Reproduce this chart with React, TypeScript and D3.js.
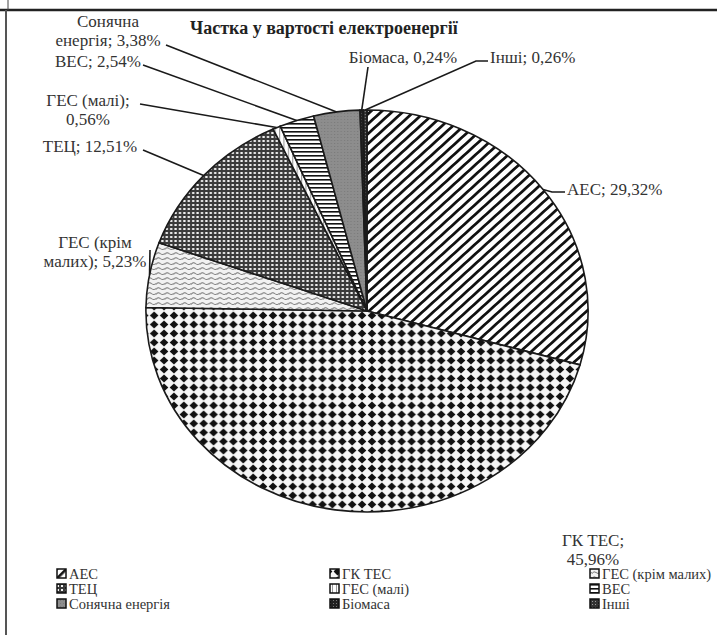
import * as d3 from "d3";

// values
const title = "Частка у вартості електроенергії";
const categories = ["АЕС", "ГК ТЕС", "ГЕС (крім малих)", "ТЕЦ", "ГЕС (малі)", "ВЕС", "Сонячна енергія", "Біомаса", "Інші"];
const shares = [29.32, 45.96, 5.23, 12.51, 0.56, 2.54, 3.38, 0.24, 0.26];
const dataLabels = [
  ["АЕС; 29,32%"],
  ["ГК ТЕС;", "45,96%"],
  ["ГЕС (крім", "малих); 5,23%"],
  ["ТЕЦ; 12,51%"],
  ["ГЕС (малі);", "0,56%"],
  ["ВЕС; 2,54%"],
  ["Сонячна", "енергія; 3,38%"],
  ["Біомаса, 0,24%"],
  ["Інші; 0,26%"],
];

// label placement (layout only)
type LabelPos = { x: number; y: number; anchor: string; lead: [number, number][] | null };
const labelPos: LabelPos[] = [
  { x: 567, y: 190, anchor: "start", lead: [[565, 192], [552, 192]] },
  { x: 593, y: 541, anchor: "middle", lead: null },
  { x: 95, y: 243, anchor: "middle", lead: [[150, 250]] },
  { x: 90, y: 147, anchor: "middle", lead: [[143, 150]] },
  { x: 88, y: 101, anchor: "middle", lead: [[140, 104]] },
  { x: 98, y: 62, anchor: "middle", lead: [[143, 65]] },
  { x: 108, y: 22, anchor: "middle", lead: [[166, 45]] },
  { x: 403, y: 58, anchor: "middle", lead: [[368, 67]] },
  { x: 490, y: 58, anchor: "start", lead: [[488, 61], [476, 61]] },
];

const W = 717;
const H = 635;
const cx = 367;
const cy = 311;
const R = 201;
const sx = 1.1; // scan is stretched sideways
const font = "Liberation Serif, serif";

const Patterns = () => (
  <defs>
    <pattern id="p0" width="7" height="7" patternUnits="userSpaceOnUse" patternTransform="rotate(45)">
      <rect width="7" height="7" fill="#fff" />
      <rect width="2.6" height="7" fill="#111" />
    </pattern>
    <pattern id="p1" width="9" height="9" patternUnits="userSpaceOnUse">
      <rect width="9" height="9" fill="#f6f6f6" />
      <path d="M4.5,0.6 L8.4,4.5 L4.5,8.4 L0.6,4.5 Z" fill="#111" />
    </pattern>
    <pattern id="p2" width="8" height="5" patternUnits="userSpaceOnUse">
      <rect width="8" height="5" fill="#f2f2f2" />
      <path d="M0,3.5 Q2,0.5 4,2.5 T8,2.5" fill="none" stroke="#777" strokeWidth="1" />
    </pattern>
    <pattern id="p3" width="4" height="4" patternUnits="userSpaceOnUse">
      <rect width="4" height="4" fill="#3a3a3a" />
      <rect x="1" y="1" width="2" height="2" fill="#f4f4f4" />
    </pattern>
    <pattern id="p4" width="4" height="4" patternUnits="userSpaceOnUse">
      <rect width="4" height="4" fill="#fff" />
      <rect x="0" y="0" width="1" height="4" fill="#999" />
    </pattern>
    <pattern id="p5" width="4" height="4" patternUnits="userSpaceOnUse">
      <rect width="4" height="4" fill="#fff" />
      <rect width="4" height="1.6" fill="#111" />
    </pattern>
    <pattern id="p6" width="3" height="3" patternUnits="userSpaceOnUse">
      <rect width="3" height="3" fill="#8d8d8d" />
      <rect width="1" height="1" fill="#7a7a7a" />
    </pattern>
    <pattern id="p7" width="3" height="3" patternUnits="userSpaceOnUse">
      <rect width="3" height="3" fill="#222" />
      <rect width="1" height="1" fill="#777" />
    </pattern>
    <pattern id="p8" width="3" height="3" patternUnits="userSpaceOnUse">
      <rect width="3" height="3" fill="#333" />
      <rect x="1" y="1" width="1" height="1" fill="#999" />
    </pattern>
  </defs>
);

export default function App() {
  const pie = d3.pie<number>().sort(null).value((d) => d).startAngle(0).endAngle(2 * Math.PI);
  const arcs = pie(shares);
  const arc = d3.arc<d3.PieArcDatum<number>>().innerRadius(0).outerRadius(R);
  const edge = d3.arc<d3.PieArcDatum<number>>().innerRadius(R).outerRadius(R);
  const line = d3.line();

  const legendX = d3.scaleOrdinal<number, number>().domain([0, 1, 2]).range([57, 330, 590]);
  const legendY = d3.scaleOrdinal<number, number>().domain([0, 1, 2]).range([574, 589, 604]);

  return (
    <svg width={W} height={H} style={{ position: "absolute", left: 0, top: 0, background: "#fff", fontFamily: font }}>
      <Patterns />
      <rect width={W} height={H} fill="#fff" />
      {/* frame */}
      <line x1={0} x2={W} y1={10} y2={10} stroke="#222" strokeWidth={2.5} />
      <line x1={8} x2={8} y1={0} y2={10} stroke="#444" strokeWidth={1} />
      <line x1={6} x2={6} y1={10} y2={H} stroke="#555" strokeWidth={2} />

      <text x={190} y={34} style={{ fontFamily: font }} fontWeight="bold" fontSize={18} fill="#222">
        {title}
      </text>

      <g transform={`translate(${cx},${cy}) scale(${sx},1)`}>
        {arcs.map((a, i) => (
          <path key={i} d={arc(a) || ""} fill={`url(#p${i})`} stroke="#1a1a1a" strokeWidth={1.6} vectorEffect="non-scaling-stroke" />
        ))}
      </g>

      {arcs.map((a, i) => {
        const p = labelPos[i];
        if (!p.lead) return null;
        const [ex, ey] = edge.centroid(a);
        const pts: [number, number][] = [...p.lead, [cx + ex * sx, cy + ey]];
        return <path key={i} d={line(pts) || ""} fill="none" stroke="#1a1a1a" strokeWidth={1.6} />;
      })}

      {dataLabels.map((lines, i) => {
        const p = labelPos[i];
        return (
          <text key={i} style={{ fontFamily: font }} fontSize={17} fill="#333" textAnchor={p.anchor}>
            {lines.map((t, j) => (
              <tspan key={j} x={p.x} y={p.y + 5 + j * 19}>
                {t}
              </tspan>
            ))}
          </text>
        );
      })}

      {categories.map((c, i) => {
        const x = legendX(i % 3);
        const y = legendY(Math.floor(i / 3));
        return (
          <g key={c}>
            <rect x={x} y={y - 5} width={9} height={9} fill={`url(#p${i})`} stroke="#111" strokeWidth={1.5} />
            <text x={x + 12} y={y + 4.5} style={{ fontFamily: font }} fontSize={14.5} fill="#333">
              {c}
            </text>
          </g>
        );
      })}
    </svg>
  );
}
